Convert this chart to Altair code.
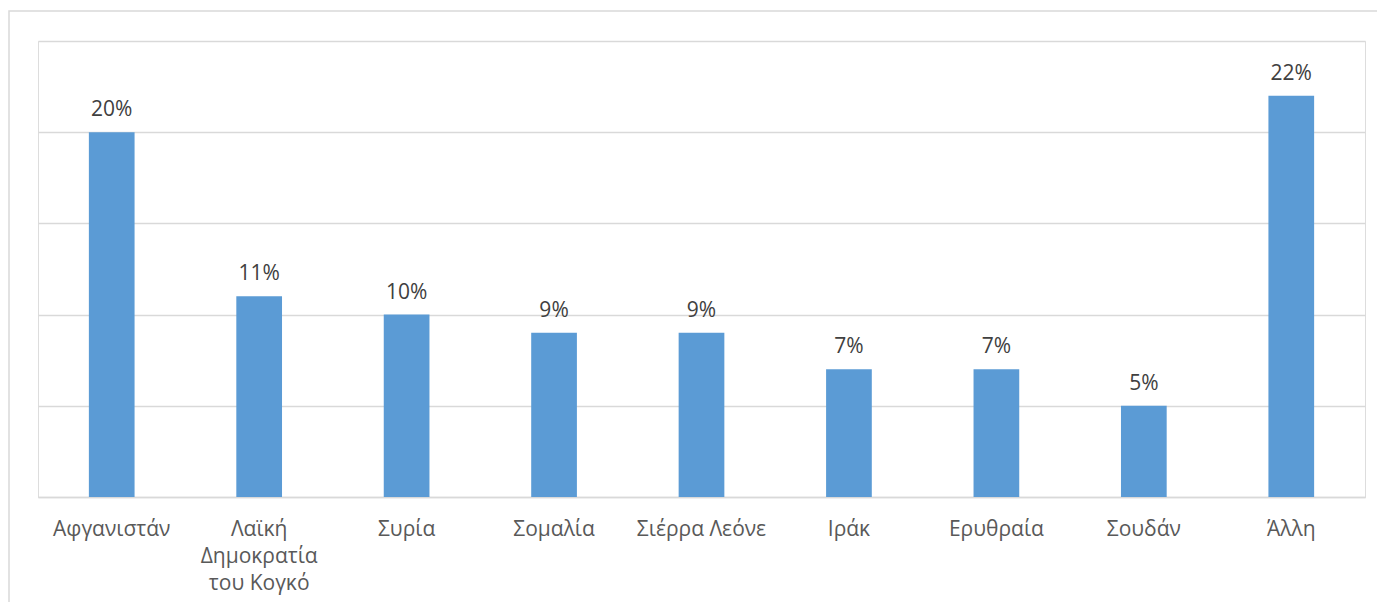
import altair as alt
import pandas as pd

categories = ["Αφγανιστάν", "Λαϊκή Δημοκρατία του Κογκό", "Συρία", "Σομαλία",
              "Σιέρρα Λεόνε", "Ιράκ", "Ερυθραία", "Σουδάν", "Άλλη"]
values = [0.20, 0.11, 0.10, 0.09, 0.09, 0.07, 0.07, 0.05, 0.22]
y_ticks = [0, 0.05, 0.10, 0.15, 0.20, 0.25]

df = pd.DataFrame({"cat": categories, "val": values})

FONT = "Open Sans"
FS = 21

x = alt.X("cat:N", sort=categories, title=None,
          scale=alt.Scale(paddingInner=0.69, paddingOuter=0.345),
          axis=alt.Axis(labelAngle=0, labelFont=FONT, labelFontSize=FS,
                        labelColor="#595959", labelPadding=21, ticks=False,
                        domainColor="#d9d9d9", domainWidth=1.5,
                        labelLineHeight=27, labelBaseline="top",
                        labelExpr="datum.label == 'Λαϊκή Δημοκρατία του Κογκό' ? ['Λαϊκή', 'Δημοκρατία', 'του Κογκό'] : datum.label"))
y = alt.Y("val:Q", title=None,
          scale=alt.Scale(domain=[0, 0.25], nice=False),
          axis=alt.Axis(values=y_ticks, labels=False, ticks=False, domain=False,
                        grid=True, gridColor="#d9d9d9", gridWidth=1.5))

base = alt.Chart(df)
bars = base.mark_bar(color="#5b9bd5").encode(x=x, y=y)
labels = base.mark_text(font=FONT, fontSize=FS, color="#404040", baseline="bottom", dy=-12).encode(
    x=alt.X("cat:N", sort=categories), y="val:Q", text=alt.Text("val:Q", format=".0%"))

border = alt.Chart(pd.DataFrame({"a": [0]})).mark_rect(fill=None, stroke="#d9d9d9", strokeWidth=1.5).encode(
    x=alt.value(-29), x2=alt.value(1340), y=alt.value(-30), y2=alt.value(590))

chart = alt.layer(border, bars, labels).properties(
    width=1327, height=456,
    autosize=alt.AutoSizeParams(type="none"),
    padding={"left": 30, "top": 33, "right": 12, "bottom": 105}
).configure_view(stroke=None).configure(background="white")

chart.save("out.html", embed_options={"renderer": "svg", "actions": False})
